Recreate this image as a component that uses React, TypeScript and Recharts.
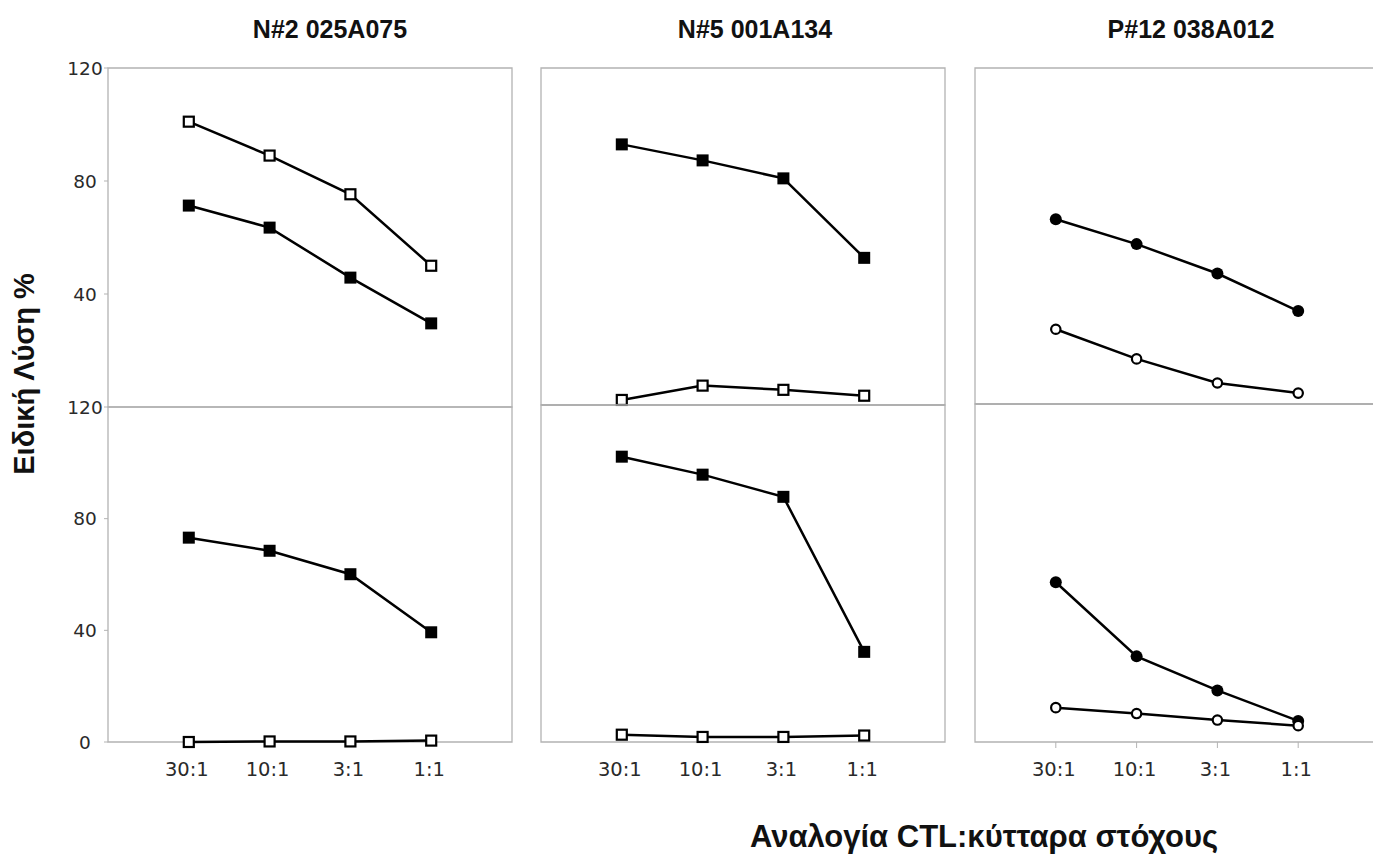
import React from 'react';
import { LineChart, Line, XAxis, YAxis, ReferenceArea, ReferenceLine } from 'recharts';

// Effector:target ratios along the x axis
const ratioLabels = ['30:1', '10:1', '3:1', '1:1'];
const panelTitles = ['N#2 025A075', 'N#5 001A134', 'P#12 038A012'];
const yTitle = 'Ειδική Λύση %';
const xTitle = 'Αναλογία CTL:κύτταρα στόχους';

// N#2 025A075
const n2UpperFilled = [71.3, 63.5, 45.8, 29.6];
const n2UpperOpen = [101, 89, 75.3, 50];
const n2LowerFilled = [73.2, 68.5, 60.1, 39.3];
const n2LowerOpen = [0, 0.2, 0.2, 0.5];

// N#5 001A134
const n5UpperFilled = [92.8, 87.1, 80.7, 52.4];
const n5UpperOpen = [1.8, 6.9, 5.4, 3.3];
const n5LowerFilled = [101.6, 95.2, 87.3, 32.1];
const n5LowerOpen = [2.6, 1.8, 1.8, 2.3];

// P#12 038A012
const p12UpperFilled = [66, 57.1, 46.6, 33.2];
const p12UpperOpen = [26.7, 16.1, 7.5, 3.9];
const p12LowerFilled = [56.7, 30.4, 18.3, 7.5];
const p12LowerOpen = [12.2, 10.1, 7.8, 5.8];

const yDomain = [0, 120];
const upperTicksLabelled = [40, 80, 120];
const lowerTicksLabelled = [0, 40, 80, 120];
const edgeTicks = [0, 120];

const BORDER = '#b3b3b3';
const SEAM = '#9a9a9a';
const TICK_FONT = 'DejaVu Sans, Verdana, sans-serif';
const TITLE_FONT = '"Liberation Sans", Arial, Helvetica, sans-serif';

type Shape = 'square' | 'circle';

function buildRows(filled: number[], open: number[]) {
  return ratioLabels.map((label, i) => ({ pos: i + 1, label, filled: filled[i], open: open[i] }));
}

function makeDot(shape: Shape, solid: boolean) {
  return (props: any) => {
    const { cx, cy, index } = props;
    const key = `dot-${index}`;
    if (cx == null || cy == null) return <g key={key} />;
    if (shape === 'square') {
      return solid ? (
        <rect key={key} x={cx - 6} y={cy - 6} width={12} height={12} fill="#000" />
      ) : (
        <rect key={key} x={cx - 5} y={cy - 5} width={10} height={10} fill="#fff" stroke="#000" strokeWidth={2.2} />
      );
    }
    return solid ? (
      <circle key={key} cx={cx} cy={cy} r={6} fill="#000" />
    ) : (
      <circle key={key} cx={cx} cy={cy} r={4.7} fill="#fff" stroke="#000" strokeWidth={2.2} />
    );
  };
}

const Y_AXIS_W = 70;
const M_TOP = 10;
const M_RIGHT = 10;
const M_BOTTOM = 6;
const X_AXIS_H = 44;
const PLOT_W = 404;

type PanelProps = {
  left: number;
  top: number;
  bottom: number;
  rows: any[];
  shape: Shape;
  yTicks: number[];
  yLabels: boolean;
  xLabels: boolean;
  xTickLines: boolean;
  seam: boolean;
};

function Panel({ left, top, bottom, rows, shape, yTicks, yLabels, xLabels, xTickLines, seam }: PanelProps) {
  const plotH = bottom - top;
  const width = Y_AXIS_W + PLOT_W + M_RIGHT;
  const height = M_TOP + plotH + (xLabels ? X_AXIS_H : 0) + M_BOTTOM;
  return (
    <div style={{ position: 'absolute', left: left - Y_AXIS_W, top: top - M_TOP, width, height }}>
      <LineChart
        width={width}
        height={height}
        data={rows}
        margin={{ top: M_TOP, right: M_RIGHT, bottom: M_BOTTOM, left: 0 }}
      >
        <XAxis
          type="number"
          dataKey="pos"
          domain={[0, 5]}
          ticks={[1, 2, 3, 4]}
          interval={0}
          hide={!xLabels}
          height={X_AXIS_H}
          axisLine={false}
          tickLine={xTickLines ? { stroke: BORDER } : false}
          tickSize={6}
          tickMargin={14}
          tickFormatter={(v: number) => ratioLabels[v - 1] ?? ''}
          tick={{ fontSize: 19.5, fill: '#2a2a2a', fontFamily: TICK_FONT, dx: -2 }}
        />
        <YAxis
          type="number"
          domain={yDomain}
          ticks={yTicks}
          interval={0}
          width={Y_AXIS_W}
          axisLine={false}
          tickLine={{ stroke: BORDER }}
          tickSize={4}
          tickMargin={19}
          tick={yLabels ? { fontSize: 18.5, fill: '#2a2a2a', fontFamily: TICK_FONT, textAnchor: 'middle' } : false}
        />
        <ReferenceArea x1={0} x2={5} y1={0} y2={120} fill="none" stroke={BORDER} strokeWidth={1.3} />
        {seam && <ReferenceLine y={0} stroke={SEAM} strokeWidth={1.6} />}
        <Line
          type="linear"
          dataKey="filled"
          stroke="#000"
          strokeWidth={2.5}
          dot={makeDot(shape, true)}
          activeDot={false}
          isAnimationActive={false}
        />
        <Line
          type="linear"
          dataKey="open"
          stroke="#000"
          strokeWidth={2.5}
          dot={makeDot(shape, false)}
          activeDot={false}
          isAnimationActive={false}
        />
      </LineChart>
    </div>
  );
}

const PANEL_LEFTS = [108, 541, 975];
const PANEL_MIDS = [407, 405, 404];
const PLOT_TOP = 68;
const PLOT_BOTTOM = 742;
const TITLE_X = [330, 755, 1191];

const panelSeries = [
  { shape: 'square' as Shape, upper: buildRows(n2UpperFilled, n2UpperOpen), lower: buildRows(n2LowerFilled, n2LowerOpen) },
  { shape: 'square' as Shape, upper: buildRows(n5UpperFilled, n5UpperOpen), lower: buildRows(n5LowerFilled, n5LowerOpen) },
  { shape: 'circle' as Shape, upper: buildRows(p12UpperFilled, p12UpperOpen), lower: buildRows(p12LowerFilled, p12LowerOpen) },
];

export default function App() {
  return (
    <div
      style={{
        position: 'absolute',
        left: 0,
        top: 0,
        width: 1373,
        height: 859,
        overflow: 'hidden',
        background: '#fff',
      }}
    >
      {panelSeries.map((p, i) => (
        <React.Fragment key={i}>
          <Panel
            left={PANEL_LEFTS[i]}
            top={PLOT_TOP}
            bottom={PANEL_MIDS[i]}
            rows={p.upper}
            shape={p.shape}
            yTicks={i === 0 ? upperTicksLabelled : edgeTicks}
            yLabels={i === 0}
            xLabels={false}
            xTickLines={false}
            seam={i > 0}
          />
          <Panel
            left={PANEL_LEFTS[i]}
            top={PANEL_MIDS[i]}
            bottom={PLOT_BOTTOM}
            rows={p.lower}
            shape={p.shape}
            yTicks={i === 0 ? lowerTicksLabelled : edgeTicks}
            yLabels={i === 0}
            xLabels={true}
            xTickLines={i === 2}
            seam={false}
          />
        </React.Fragment>
      ))}
      <svg
        width={1373}
        height={859}
        style={{ position: 'absolute', left: 0, top: 0, pointerEvents: 'none' }}
      >
        {panelTitles.map((t, i) => (
          <text
            key={t}
            x={TITLE_X[i]}
            y={38}
            textAnchor="middle"
            fontFamily={TITLE_FONT}
            fontWeight="bold"
            fontSize={25}
            fill="#111"
          >
            {t}
          </text>
        ))}
        <text
          x={34}
          y={374}
          transform="rotate(-90 34 374)"
          textAnchor="middle"
          fontFamily={TITLE_FONT}
          fontWeight="bold"
          fontSize={29}
          fill="#111"
        >
          {yTitle}
        </text>
        <text
          x={984}
          y={847}
          textAnchor="middle"
          fontFamily={TITLE_FONT}
          fontWeight="bold"
          fontSize={31}
          fill="#111"
        >
          {xTitle}
        </text>
      </svg>
    </div>
  );
}
